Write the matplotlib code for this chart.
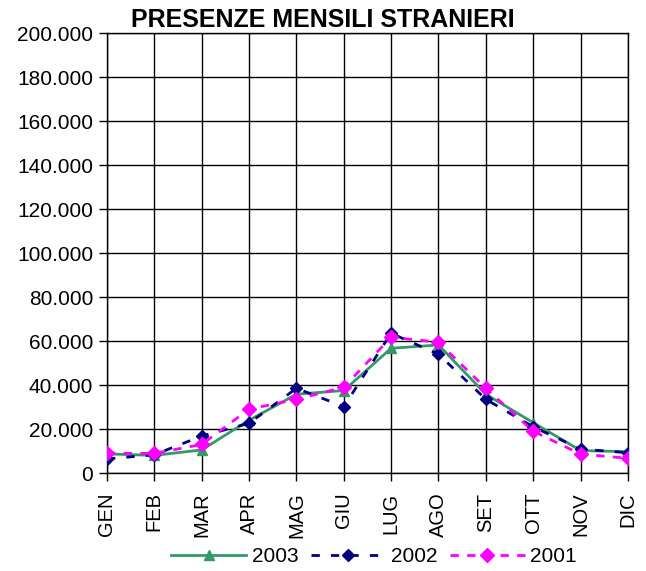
import matplotlib
matplotlib.use("Agg")
import matplotlib.pyplot as plt
from matplotlib.ticker import FuncFormatter, MultipleLocator

months = ["GEN", "FEB", "MAR", "APR", "MAG", "GIU", "LUG", "AGO", "SET", "OTT", "NOV", "DIC"]
s2003 = [8700, 8000, 10500, 24000, 35800, 37500, 56700, 58200, 35800, 22900, 10200, 9700]
s2002 = [6400, 8300, 16800, 22600, 38500, 30200, 63500, 54000, 33500, 21000, 10900, 9200]
s2001 = [9000, 8900, 13000, 29000, 33500, 39000, 61700, 59500, 38500, 19000, 8600, 6700]
title = "PRESENZE MENSILI STRANIERI"

plt.rcParams['font.family'] = ['Liberation Sans', 'DejaVu Sans']

fig = plt.figure(figsize=(6.46, 5.71), dpi=100)
ax = fig.add_axes([0.1656, 0.1716, 0.8064, 0.7706])
x = list(range(len(months)))

ax.plot(x, s2003, color="#339966", lw=2, marker="^", ms=7, label="2003", zorder=3)
ax.plot(x, s2002, color="#000080", lw=2, ls=(0, (3, 4)), marker="D", ms=6, label="2002", zorder=4)
ax.plot(x, s2001, color="#FF00FF", lw=2, ls=(0, (3, 3)), marker="D", ms=7, label="2001", zorder=5)

ax.set_xlim(0, len(months) - 1)
ax.set_ylim(0, 200000)
ax.yaxis.set_major_locator(MultipleLocator(20000))
ax.yaxis.set_major_formatter(FuncFormatter(lambda v, p: "0" if v == 0 else f"{int(v):,}".replace(",", ".")))
ax.set_xticks(x)
ax.set_xticklabels(months, rotation=90, fontsize=14.5)
ax.tick_params(axis='y', labelsize=15, direction='out', length=6, width=1, pad=4)
ax.tick_params(axis='x', direction='out', length=6, width=1, pad=8)
ax.grid(True, color="black", lw=1)
ax.set_axisbelow(True)
for s in ax.spines.values():
    s.set_color("black")
    s.set_linewidth(1)

fig.text(0.5, 1 - 27 / 571, title, fontsize=18, fontweight="bold", ha="center", va="baseline")

fig.legend(loc="center", bbox_to_anchor=(374 / 646, 1 - 557 / 571), ncol=3, frameon=False,
           fontsize=15, handlelength=3.6, columnspacing=0.6, handletextpad=0.25)

fig.savefig("out.png", dpi=100)
